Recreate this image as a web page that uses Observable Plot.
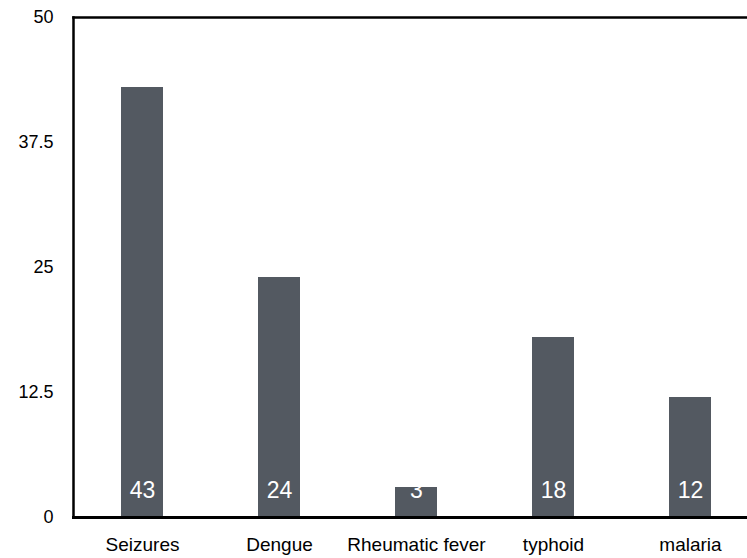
<!DOCTYPE html>
<html>
<head>
<meta charset="utf-8">
<script src="https://cdn.jsdelivr.net/npm/d3@7"></script>
<script src="https://cdn.jsdelivr.net/npm/@observablehq/plot@0.6"></script>
<style>
  html, body { margin: 0; padding: 0; background: #fff; }
  svg { display: block; }
</style>
</head>
<body>
<div id="chart"></div>
<script>
const categories = ["Seizures", "Dengue", "Rheumatic fever", "typhoid", "malaria"];
const values = [43, 24, 3, 18, 12];
const yTicks = [0, 12.5, 25, 37.5, 50];

const data = categories.map((c, i) => ({category: c, value: values[i]}));

const chart = Plot.plot({
  width: 747,
  height: 558,
  marginTop: 17,
  marginBottom: 41,
  marginLeft: 73,
  marginRight: 0,
  style: {fontFamily: "Liberation Sans, Arial, sans-serif", fontSize: "18px", color: "#000", background: "#fff", overflow: "hidden"},
  x: {domain: categories, range: [74, 759], paddingInner: 0.69, paddingOuter: 0.345, label: null},
  y: {domain: [0, 50], ticks: yTicks, label: null},
  marks: [
    Plot.barY(data, {x: "category", y: "value", fill: "#535961"}),
    Plot.text(data, {x: "category", y: 0, text: d => String(d.value), dy: -27, fill: "#fff", fontSize: 23}),
    Plot.axisX({tickSize: 0, tickPadding: 20, fontSize: 19}),
    Plot.axisY({ticks: yTicks, tickSize: 0, tickPadding: 20, fontSize: 18, tickFormat: d => String(d)}),
    Plot.frame({anchor: "bottom", stroke: "#000", strokeWidth: 3}),
    Plot.frame({anchor: "top", stroke: "#000", strokeWidth: 2.5}),
    Plot.frame({anchor: "left", stroke: "#000", strokeWidth: 2.5})
  ]
});
document.getElementById("chart").appendChild(chart);
</script>
</body>
</html>
